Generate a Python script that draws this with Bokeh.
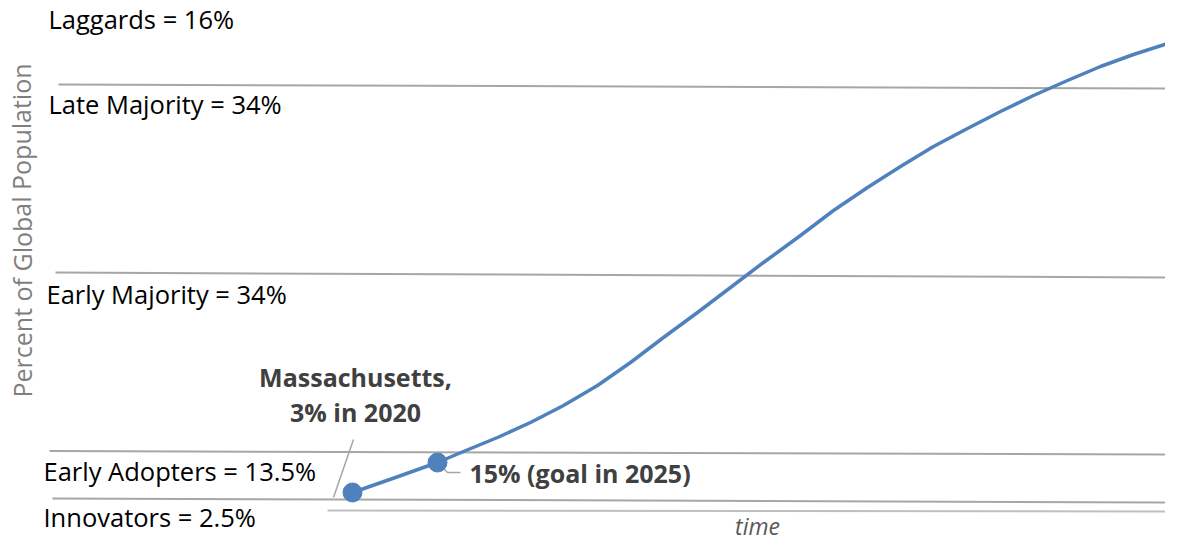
from bokeh.plotting import figure
from bokeh.models import Range1d, ColumnDataSource
from bokeh.core.properties import value
from bokeh.embed import file_html
from bokeh.resources import INLINE

# ---- data (x = time units, y = adoption units) ----
curve_x = [352, 395, 437, 463, 497, 530, 563, 597, 630, 663, 697, 730, 763, 800,
           833, 867, 900, 933, 967, 1000, 1033, 1067, 1100, 1133, 1167, 1181]
curve_y = [50, 65, 80, 91, 105, 120, 137, 157, 180, 205, 230, 255, 280, 307,
           332, 355, 376, 396, 414, 431, 447, 462, 476, 488, 499, 504]

marker_x = [352, 437]
marker_y = [50, 80]

# segment boundaries (start/end of each divider line)
bound_x0 = [58, 55, 49, 52]
bound_y0 = [458, 270, 91.5, 44]
bound_x1 = [1181, 1181, 1181, 1181]
bound_y1 = [454, 265, 88, 40]

axis_x = [327, 1181]
axis_y = [32, 31]

segment_labels = ["Laggards = 16%", "Late Majority = 34%", "Early Majority = 34%",
                  "Early Adopters = 13.5%", "Innovators = 2.5%"]
label_x = [48, 48, 46, 43, 43]
label_y = [524, 439, 249, 72, 26]

callout1 = ["Massachusetts,", "3% in 2020"]
callout2 = "15% (goal in 2025)"
x_title = "time"
y_title = "Percent of Global Population"

BLUE = "#4F81BD"
GREY = "#A6A6A6"

p = figure(width=1165, height=542, output_backend="svg", toolbar_location=None,
           x_range=Range1d(0, 1165), y_range=Range1d(0, 542),
           min_border=0, min_border_left=0, min_border_right=0,
           min_border_top=0, min_border_bottom=0)
p.axis.visible = False
p.grid.visible = False
p.outline_line_color = None
p.background_fill_color = "white"
p.border_fill_color = "white"

# divider lines
p.segment(x0=bound_x0, y0=bound_y0, x1=bound_x1, y1=bound_y1, line_color=GREY, line_width=2)
p.line(axis_x, axis_y, line_color="#BFBFBF", line_width=2)

# leader lines
p.line([353, 333], [103, 45], line_color=GREY, line_width=1.5)
p.line([marker_x[1], marker_x[1] + 10, marker_x[1] + 23], [marker_y[1], 70, 70],
       line_color=GREY, line_width=1.5)

# S-curve
p.line(curve_x, curve_y, line_color=BLUE, line_width=3.5, line_join="round", line_cap="round")
p.scatter(marker_x, marker_y, size=19, fill_color=BLUE, line_color=BLUE)

# segment labels
src = ColumnDataSource(dict(x=label_x, y=label_y, t=segment_labels))
p.text(x="x", y="y", text="t", source=src, text_font=value("Open Sans"),
       text_font_size="25.5px", text_color="#000000", text_baseline="alphabetic", text_align="left")

# callouts
p.text(x=[355, 355], y=[166, 131], text=callout1, text_font=value("Open Sans"),
       text_font_style="bold", text_font_size="25px", text_color="#404040",
       text_align="center", text_baseline="alphabetic")
p.text(x=[469], y=[70], text=[callout2], text_font=value("Open Sans"),
       text_font_style="bold", text_font_size="25px", text_color="#404040",
       text_align="left", text_baseline="alphabetic")

# axis titles
p.text(x=[757], y=[17], text=[x_title], text_font=value("Open Sans"), text_font_style="italic",
       text_font_size="23px", text_color="#595959", text_align="center", text_baseline="alphabetic")
p.text(x=[21], y=[312], text=[y_title], text_font=value("Open Sans"), angle=1.5708,
       text_font_size="25px", text_color="#7F7F7F", text_align="center", text_baseline="alphabetic")

open("out.html", "w").write(file_html(p, INLINE))
